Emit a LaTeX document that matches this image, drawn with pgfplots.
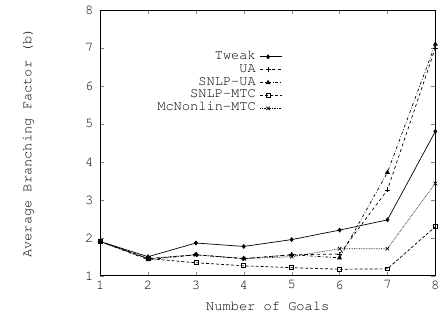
\documentclass[border=0pt]{standalone}
\usepackage[T1]{fontenc}
\usepackage{courier}
\renewcommand{\familydefault}{\ttdefault}
\usepackage{pgfplots}
\pgfplotsset{compat=1.18}
\begin{document}
\fontsize{13.8}{16}\selectfont
\begin{tikzpicture}[x=1pt,y=1pt]
\begin{axis}[name=ax,
  scale only axis, width=338pt, height=268pt,
  xmin=1, xmax=8, ymin=1, ymax=8,
  xtick={1,...,8}, ytick={1,...,8},
  tick align=inside, tick pos=both,
  major tick length=4pt,
  /pgf/number format/assume math mode=true,
  ticklabel style={font=\fontsize{13.8}{16}\selectfont},
  yticklabel style={xshift=-2pt},
  label style={font=\fontsize{13.8}{16}\selectfont},
  xlabel={Number of Goals}, ylabel={Average Branching Factor (b)},
  every axis x label/.style={at={(axis description cs:0.5,0)}, anchor=center, yshift=-31pt},
  every axis y label/.style={at={(axis description cs:-0.215,0.5)}, rotate=90, anchor=center},
  axis line style={black, line width=0.8pt},
  legend style={draw=none, fill=none, at={(0.553,0.856)}, anchor=north east,
    font=\fontsize{13.8}{16}\selectfont, row sep=0pt,
    nodes={inner sep=1pt, text height=8pt, text depth=3pt, anchor=east},
    /tikz/every odd column/.append style={column sep=3pt}},
  legend cell align=right,
  legend plot pos=right,
  legend image code/.code={\draw[#1] (0pt,0pt) -- (22pt,0pt); \path[#1, solid] plot coordinates {(8pt,0pt)};},
]
\addplot[black, line width=0.7pt, mark=diamond*, mark size=2pt] coordinates {(1,1.9)(2,1.5)(3,1.86)(4,1.77)(5,1.95)(6,2.2)(7,2.47)(8,4.8)};
\addlegendentry{Tweak}
\addplot[black, line width=0.7pt, dashed, mark=+, mark size=2.5pt, mark options={solid}] coordinates {(1,1.9)(2,1.45)(3,1.55)(4,1.45)(5,1.55)(6,1.57)(7,3.26)(8,7.0)};
\addlegendentry{UA}
\addplot[black, line width=0.7pt, dash dot, mark=triangle*, mark size=2.2pt, mark options={solid}] coordinates {(1,1.9)(2,1.42)(3,1.55)(4,1.45)(5,1.55)(6,1.47)(7,3.72)(8,7.1)};
\addlegendentry{SNLP-UA}
\addplot[black, line width=0.7pt, densely dashed, mark=square, mark size=2pt, mark options={solid}] coordinates {(1,1.9)(2,1.45)(3,1.34)(4,1.26)(5,1.21)(6,1.17)(7,1.18)(8,2.29)};
\addlegendentry{SNLP-MTC}
\addplot[black, line width=0.7pt, densely dotted, mark=x, mark size=2.5pt, mark options={solid}] coordinates {(1,1.9)(2,1.45)(3,1.55)(4,1.45)(5,1.5)(6,1.71)(7,1.71)(8,3.43)};
\addlegendentry{McNonlin-MTC}
\end{axis}
\path ([xshift=-101pt,yshift=-42pt]ax.south west) rectangle ([xshift=5pt,yshift=10pt]ax.north east);
\end{tikzpicture}
\end{document}
